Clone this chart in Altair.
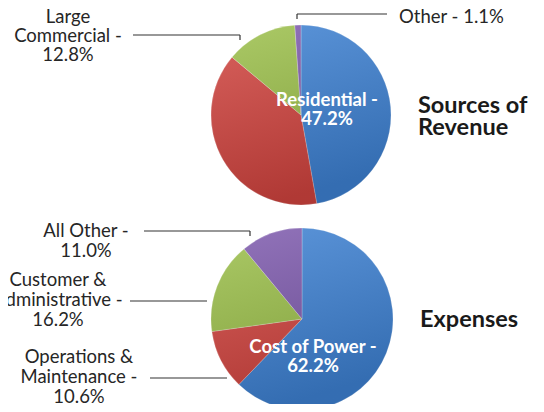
import altair as alt
import pandas as pd

# ---------------- data ----------------
rev_categories = ["Residential", "(unlabeled)", "Large Commercial", "Other"]
rev_values = [47.2, 38.9, 12.8, 1.1]

exp_categories = ["Cost of Power", "Operations & Maintenance",
                  "Customer & Administrative", "All Other"]
exp_values = [62.2, 10.6, 16.2, 11.0]

titles = ["Sources of\nRevenue", "Expenses"]

# ---------------- style / layout ----------------
PALETTE = ["#3E82D4", "#D2443F", "#9CC04A", "#7E5AAE"]
WRAP = {
    "Large Commercial": "Large\nCommercial",
    "Customer & Administrative": "Customer &\nAdministrative",
    "Operations & Maintenance": "Operations &\nMaintenance",
}
FONT = "Lato"
W, H, PAD = 512, 380, 8
PIES = [(285, 99, 90), (286, 303, 91)]  # centre x, centre y, radius

# (category, x, y, align, separator, line height)
OUT_LABELS = [
    ("Large Commercial", 52, 7, "center", " -\n", 19),
    ("Other", 383, 6.5, "left", " - ", 20),
    ("All Other", 70, 221, "center", " -\n", 20),
    ("Customer & Administrative", 42, 270, "center", " -\n", 20),
    ("Operations & Maintenance", 63, 347, "center", " -\n", 20),
]
IN_LABELS = [
    ("Residential", 311, 89.5, "center", " -\n", 19),
    ("Cost of Power", 297, 336.5, "center", " -\n", 19),
]
TITLE_POS = [(402, 97), (404, 311)]
LEADERS = [  # x, y, x2, y2
    (117, 19, 224, 19), (224, 19, 224, 24),
    (281, -2, 371, -2), (281, -2, 281, 3),
    (128, 215, 234, 215), (234, 215, 234, 220),
    (114, 285, 191, 285),
    (134, 362, 211, 362),
]

values_by_cat = dict(zip(rev_categories + exp_categories, rev_values + exp_values))


def label_text(cat, sep):
    return WRAP.get(cat, cat) + sep + f"{values_by_cat[cat]:.1f}%"


def pie(cats, vals, cx, cy, r):
    df = pd.DataFrame({"category": cats, "value": vals,
                       "slot": list(range(len(cats)))})
    return alt.Chart(df).mark_arc(
        radius=r, stroke="#ffffff", strokeOpacity=0.35, strokeWidth=0.7
    ).encode(
        theta=alt.Theta("value:Q", stack=True),
        order=alt.Order("slot:Q"),
        color=alt.Color("slot:N", scale=alt.Scale(domain=[0, 1, 2, 3], range=PALETTE),
                        legend=None),
        x=alt.value(cx), y=alt.value(cy),
    )


def shade(cx, cy, r):
    grad = alt.Gradient(
        gradient="linear", x1=0, y1=0, x2=0.3, y2=1,
        stops=[alt.GradientStop(color="#ffffff", offset=0),
               alt.GradientStop(color="#808080", offset=0.5),
               alt.GradientStop(color="#000000", offset=1)],
    )
    return alt.Chart(pd.DataFrame({"k": [0]})).mark_arc(
        radius=r, theta=0, theta2=6.2832, fill=grad, fillOpacity=0.16
    ).encode(x=alt.value(cx), y=alt.value(cy))


layers = []
layers.append(pie(rev_categories, rev_values, *PIES[0]))
layers.append(shade(*PIES[0]))
layers.append(pie(exp_categories, exp_values, *PIES[1]))
layers.append(shade(*PIES[1]))

lead_df = pd.DataFrame(LEADERS, columns=["x", "y", "x2", "y2"])
layers.append(alt.Chart(lead_df).mark_rule(color="#333333", strokeWidth=1.2).encode(
    x=alt.X("x:Q", scale=None), y=alt.Y("y:Q", scale=None),
    x2="x2:Q", y2="y2:Q"))

for labs, style in [(OUT_LABELS, dict(fontSize=18.5, color="#262626")),
                    (IN_LABELS, dict(fontSize=18.5, color="#ffffff", fontWeight="bold"))]:
    for cat, x, y, align, sep, lh in labs:
        df = pd.DataFrame({"t": [label_text(cat, sep)], "x": [x], "y": [y]})
        layers.append(alt.Chart(df).mark_text(
            font=FONT, align=align, baseline="alphabetic", lineBreak="\n",
            lineHeight=lh, **style
        ).encode(x=alt.X("x:Q", scale=None), y=alt.Y("y:Q", scale=None), text="t:N"))

tdf = pd.DataFrame({"t": titles, "x": [p[0] for p in TITLE_POS],
                    "y": [p[1] for p in TITLE_POS]})
layers.append(alt.Chart(tdf).mark_text(
    font=FONT, fontSize=23.5, fontWeight="bold", color="#1a1a1a", align="left",
    baseline="alphabetic", lineBreak="\n", lineHeight=22
).encode(x=alt.X("x:Q", scale=None), y=alt.Y("y:Q", scale=None), text="t:N"))

chart = alt.layer(*layers).resolve_scale(theta="independent").properties(
    width=W, height=H, autosize="none", padding=PAD
).configure_view(stroke=None)

chart.save("out.html", embed_options={"renderer": "svg", "actions": False})
